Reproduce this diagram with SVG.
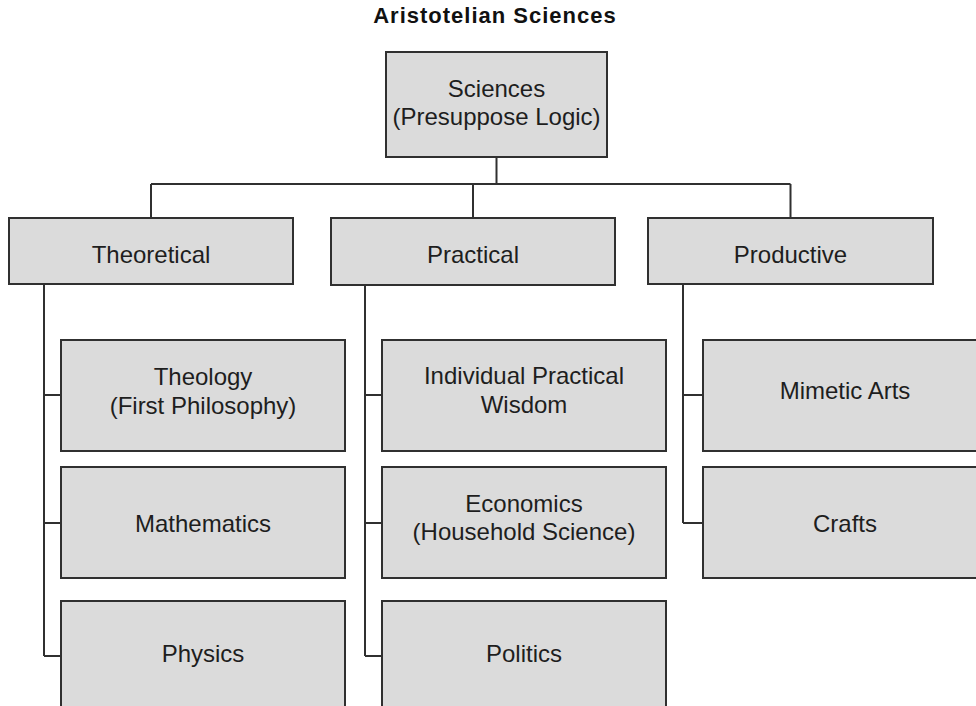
<svg xmlns="http://www.w3.org/2000/svg" width="976" height="706" viewBox="0 0 976 706">
<style>
.box{fill:#dbdbdb;stroke:#303030;stroke-width:2}
.lbl{font-family:"Liberation Sans",Arial,Helvetica,sans-serif;font-size:24px;fill:#1e1e1e;text-anchor:middle}
.title{font-family:"Liberation Sans",Arial,Helvetica,sans-serif;font-size:22px;font-weight:bold;fill:#111;text-anchor:middle;letter-spacing:1px}
.conn{fill:none;stroke:#303030;stroke-width:2}
</style>
<rect width="976" height="706" fill="#ffffff"/>
<text class="title" x="495" y="23">Aristotelian Sciences</text>
<g id="connectors" class="conn">
<path d="M496.5 157V184"/>
<path d="M151 184H790.5"/>
<path d="M151 184V218M473 184V218M790.5 184V218"/>
<path d="M44 284V656M44 395H61M44 523H61M44 656H61"/>
<path d="M365 285V656M365 395H382M365 523H382M365 656H382"/>
<path d="M683 284V523M683 395H703M683 523H703"/>
</g>
<g id="sciences"><rect class="box" x="386" y="52" width="221" height="105"/><text class="lbl" x="496.5" y="97">Sciences</text><text class="lbl" x="496.5" y="125">(Presuppose Logic)</text></g>
<g id="theoretical"><rect class="box" x="9" y="218" width="284" height="66"/><text class="lbl" x="151" y="263">Theoretical</text></g>
<g id="practical"><rect class="box" x="331" y="218" width="284" height="67"/><text class="lbl" x="473" y="263">Practical</text></g>
<g id="productive"><rect class="box" x="648" y="218" width="285" height="66"/><text class="lbl" x="790.5" y="263">Productive</text></g>
<g id="theology"><rect class="box" x="61" y="340" width="284" height="111"/><text class="lbl" x="203" y="385">Theology</text><text class="lbl" x="203" y="414">(First Philosophy)</text></g>
<g id="mathematics"><rect class="box" x="61" y="467" width="284" height="111"/><text class="lbl" x="203" y="532">Mathematics</text></g>
<g id="physics"><rect class="box" x="61" y="601" width="284" height="111"/><text class="lbl" x="203" y="662">Physics</text></g>
<g id="individual"><rect class="box" x="382" y="340" width="284" height="111"/><text class="lbl" x="524" y="384">Individual Practical</text><text class="lbl" x="524" y="413">Wisdom</text></g>
<g id="economics"><rect class="box" x="382" y="467" width="284" height="111"/><text class="lbl" x="524" y="512">Economics</text><text class="lbl" x="524" y="540">(Household Science)</text></g>
<g id="politics"><rect class="box" x="382" y="601" width="284" height="111"/><text class="lbl" x="524" y="662">Politics</text></g>
<g id="mimetic"><rect class="box" x="703" y="340" width="284" height="111"/><text class="lbl" x="845" y="399">Mimetic Arts</text></g>
<g id="crafts"><rect class="box" x="703" y="467" width="284" height="111"/><text class="lbl" x="845" y="532">Crafts</text></g>
</svg>
